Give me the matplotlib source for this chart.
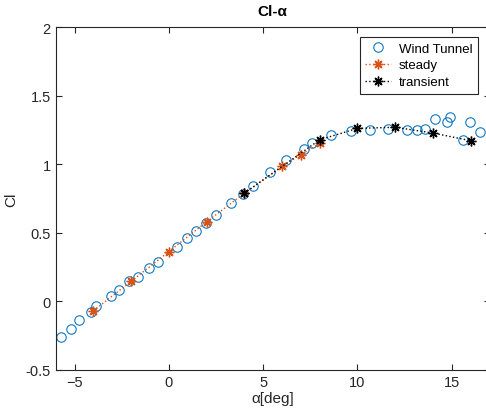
import matplotlib
matplotlib.use("Agg")
import matplotlib.pyplot as plt

plt.rcParams['font.family'] = ['Liberation Sans', 'DejaVu Sans']

# Wind tunnel data
wt_alpha = [-5.7, -5.21, -4.77, -4.12, -3.84, -3.07, -2.65, -2.09, -1.63, -1.07,
            -0.6, 0.44, 0.98, 1.46, 1.98, 2.5, 3.3, 3.92, 4.47, 5.36, 6.21, 7.17,
            7.6, 8.61, 9.66, 10.68, 11.6, 12.6, 13.16, 13.56, 14.12, 14.75, 14.91,
            15.58, 15.96, 16.5]
wt_cl = [-0.264, -0.2, -0.14, -0.08, -0.034, 0.036, 0.082, 0.146, 0.176, 0.246,
         0.29, 0.395, 0.462, 0.51, 0.569, 0.626, 0.72, 0.785, 0.84, 0.94, 1.032,
         1.113, 1.153, 1.211, 1.245, 1.25, 1.255, 1.25, 1.25, 1.255, 1.328, 1.305,
         1.343, 1.178, 1.312, 1.232]

# Steady simulation
st_alpha = [-4, -2, 0, 2, 4, 6, 7, 8]
st_cl = [-0.069, 0.145, 0.363, 0.58, 0.788, 0.985, 1.07, 1.153]

# Transient simulation
tr_alpha = [4, 8, 10, 12, 14, 16]
tr_cl = [0.788, 1.179, 1.262, 1.27, 1.228, 1.172]

xticks = [-5, 0, 5, 10, 15]
yticks = [-0.5, 0, 0.5, 1, 1.5, 2]
ytick_labels = ['-0.5', '0', '0.5', '1', '1.5', '2']

blue = '#0072BD'
orange = '#D95319'
axcol = '#262626'
asterisk = (8, 2, 0)

fig = plt.figure(figsize=(4.86, 4.14), dpi=100)
ax = fig.add_axes([55.7 / 486, 43.3 / 414, (489.5 - 55.7) / 486, (370.7 - 28.3) / 414])

ax.plot(wt_alpha, wt_cl, linestyle='none', marker='o', markersize=6.8,
        markerfacecolor='none', markeredgecolor=blue, markeredgewidth=0.75,
        label='Wind Tunnel')
ax.plot(st_alpha, st_cl, linestyle=':', color=orange, linewidth=1.0, marker=asterisk,
        markersize=7, markeredgewidth=1.0, label='steady')
ax.plot(tr_alpha, tr_cl, linestyle=':', color='black', linewidth=1.0, marker=asterisk,
        markersize=7, markeredgewidth=1.0, label='transient')

ax.set_xlim(-6, 17)
ax.set_ylim(-0.5, 2)
ax.set_xticks(xticks)
ax.set_yticks(yticks)
ax.set_yticklabels(ytick_labels)

for s in ax.spines.values():
    s.set_color(axcol)
    s.set_linewidth(0.8)
ax.tick_params(direction='in', length=4, width=0.8, colors=axcol, labelsize=10.5,
               top=True, right=True, labelcolor=axcol)

ax.set_title('Cl-α', fontsize=11, fontweight='bold', color='black', pad=9)
ax.set_xlabel('α[deg]', fontsize=11, color=axcol, labelpad=2)
ax.set_ylabel('Cl', fontsize=11, color=axcol, labelpad=5)

leg = ax.legend(loc='upper right', bbox_to_anchor=(478 / 486, 1 - 38 / 414),
                bbox_transform=fig.transFigure, borderaxespad=0, fontsize=9.5,
                fancybox=False, framealpha=1, edgecolor=axcol,
                handlelength=2.0, handletextpad=0.6, borderpad=0.4, labelspacing=0.35)
leg.get_frame().set_linewidth(0.8)

fig.savefig('out.png', dpi=100)
